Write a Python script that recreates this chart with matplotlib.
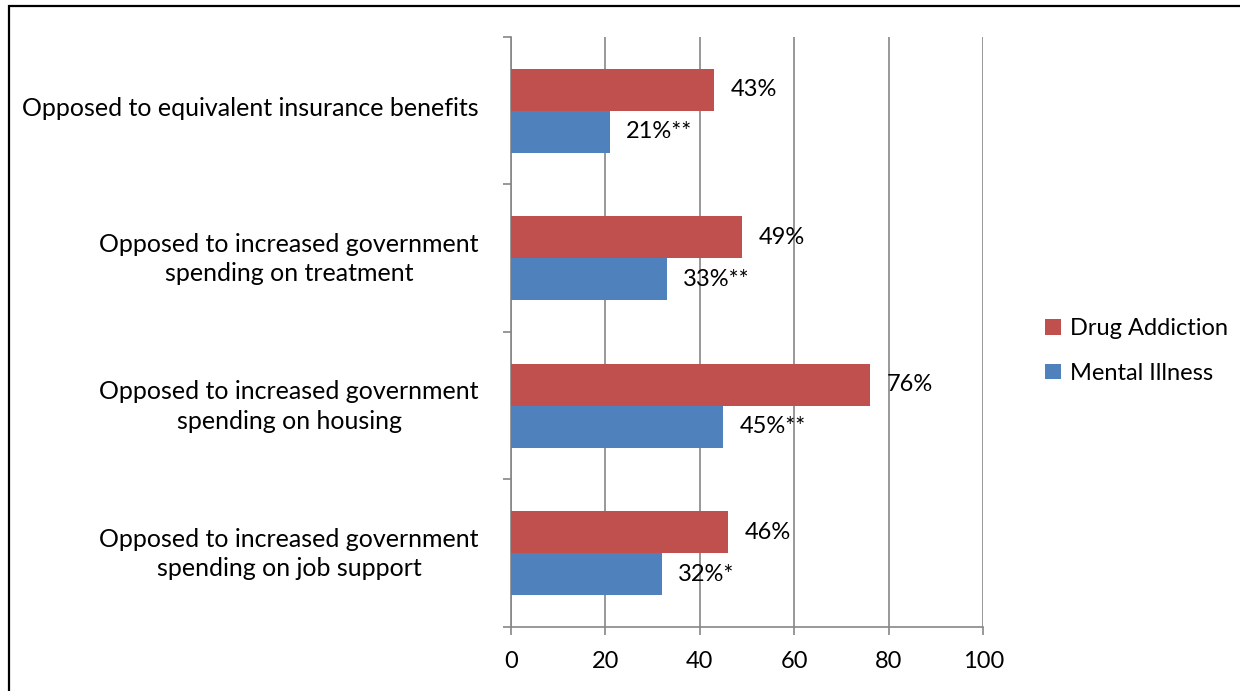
import matplotlib.pyplot as plt
import numpy as np
from matplotlib.patches import Rectangle

plt.rcParams['font.family'] = ['Lato', 'DejaVu Sans']

categories = ["Opposed to equivalent insurance benefits",
              "Opposed to increased government\nspending on treatment",
              "Opposed to increased government\nspending on housing",
              "Opposed to increased government\nspending on job support"]
drug = [43, 49, 76, 46]
mental = [21, 33, 45, 32]
drug_labels = ["43%", "49%", "76%", "46%"]
mental_labels = ["21%**", "33%**", "45%**", "32%*"]

red = "#C0504D"
blue = "#4F81BD"
grid = "#868686"
fs = 17

fig = plt.figure(figsize=(12.4, 6.91), dpi=100)
ax = fig.add_axes([0.412, 0.0926, 0.381, 0.854])

# categories top to bottom
y = np.arange(len(categories))[::-1].astype(float)
h = 0.285
ax.barh(y + h / 2, drug, height=h, color=red, label="Drug Addiction", zorder=3)
ax.barh(y - h / 2, mental, height=h, color=blue, label="Mental Illness", zorder=3)

for yi, v, t in zip(y, drug, drug_labels):
    ax.text(v + 3.5, yi + h / 2, t, va='center', ha='left', fontsize=fs, zorder=4)
for yi, v, t in zip(y, mental, mental_labels):
    ax.text(v + 3.4, yi - h / 2, t, va='center', ha='left', fontsize=fs, zorder=4)

ax.set_xlim(0, 100)
ax.set_ylim(-0.5, len(categories) - 0.5)
ax.set_xticks(np.arange(0, 101, 20))
ax.xaxis.grid(True, color=grid, linewidth=1.2, zorder=0)
ax.set_yticks(np.arange(-0.5, len(categories), 1.0))
ax.set_yticklabels([])
ax.set_yticks(y + 0.03, minor=True)
ax.set_yticklabels(categories, minor=True, ha='right', multialignment='center',
                   fontsize=18, linespacing=1.35)
ax.tick_params(axis='y', which='minor', length=0, pad=23)
ax.tick_params(axis='y', which='major', length=6, color=grid, width=1.2)
ax.tick_params(axis='x', length=6, color=grid, width=1.2, labelsize=fs, pad=11)
for s in ['top', 'right']:
    ax.spines[s].set_visible(False)
for s in ['left', 'bottom']:
    ax.spines[s].set_color(grid)
    ax.spines[s].set_linewidth(1.2)

fig.legend(loc='center left', bbox_to_anchor=(0.826, 0.492), frameon=False,
           fontsize=fs, handlelength=0.65, handleheight=0.65, handletextpad=0.4,
           labelspacing=1.0)

fig.patches.append(Rectangle((9 / 1240, -0.05), 1.1, 1 - 6 / 691 + 0.05,
                             transform=fig.transFigure, fill=False,
                             edgecolor='black', linewidth=1.6))

fig.savefig("out.png", dpi=100)
